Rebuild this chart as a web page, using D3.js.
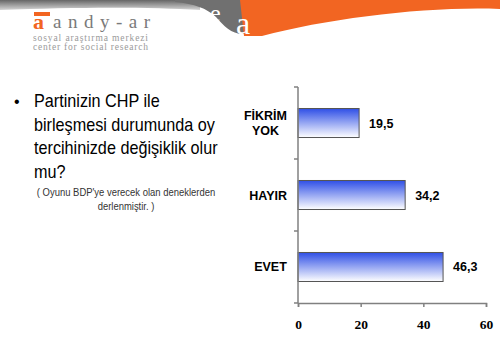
<!DOCTYPE html>
<html><head><meta charset="utf-8">
<script src="https://cdn.jsdelivr.net/npm/d3@7"></script>
<style>body{margin:0;background:#fff}svg{display:block}
.serif{font-family:'Liberation Serif','DejaVu Serif',serif}
.sans{font-family:'Liberation Sans',Arial,sans-serif}
</style>
</head><body>
<svg id="c" width="500" height="356"></svg>
<script>
const categories = ["FİKRİM YOK", "HAYIR", "EVET"];
const values = [19.5, 34.2, 46.3];
const valueLabels = ["19,5", "34,2", "46,3"];
const xTicks = [0, 20, 40, 60];
const questionLines = ["Partinizin CHP ile", "birleşmesi durumunda oy", "tercihinizde değişiklik olur", "mu?"];
const noteLines = ["( Oyunu BDP'ye verecek olan deneklerden", "derlenmiştir. )"];

const svg = d3.select("#c");
const defs = svg.append("defs");
const grad = defs.append("linearGradient").attr("id","bg").attr("x1",0).attr("y1",0).attr("x2",0).attr("y2",1);
grad.append("stop").attr("offset","0%").attr("stop-color","#2f4fe6");
grad.append("stop").attr("offset","100%").attr("stop-color","#ffffff");
const gg = defs.append("linearGradient").attr("id","gg").attr("gradientUnits","userSpaceOnUse")
  .attr("x1",0).attr("y1",0).attr("x2",0).attr("y2",11);
gg.append("stop").attr("offset","0%").attr("stop-color","#666");
gg.append("stop").attr("offset","100%").attr("stop-color","#e0e0e0");

// header decoration
svg.append("path").attr("d","M0,0 L200,0 L200,10 C150,7 80,7 0,10 Z").attr("fill","url(#gg)");
svg.append("path").attr("d","M175,0 L245,0 L245,34 C232,35 224,26 216,17 C206,8 195,4 175,2 Z").attr("fill","#707070");
svg.append("path").attr("d","M240,0 L500,0 L500,9 C430,6 330,18 262,36 L244,36 Z").attr("fill","#f26522");
svg.append("text").attr("class","serif").attr("x",210).attr("y",21).attr("font-size",24).attr("fill","#fff").text("e");
svg.append("text").attr("class","serif").attr("x",236).attr("y",34).attr("font-size",32).attr("fill","#fff").text("a");

// logo
svg.append("rect").attr("x",34).attr("y",12).attr("width",16).attr("height",4).attr("fill","#f26522");
svg.append("text").attr("class","serif").attr("x",33).attr("y",29).attr("font-weight","bold").attr("font-size",22).attr("fill","#f26522").text("a");
svg.append("text").attr("class","serif").attr("x",53).attr("y",28).attr("font-size",19).attr("fill","#7a7a7a").attr("textLength",97).text("andy-ar");
svg.append("text").attr("class","serif").attr("x",33).attr("y",41).attr("font-size",9.5).attr("fill","#9a9a9a").attr("textLength",115).text("sosyal araştırma merkezi");
svg.append("text").attr("class","serif").attr("x",33).attr("y",50).attr("font-size",9.5).attr("fill","#9a9a9a").attr("textLength",115).text("center for social research");

// left text
svg.append("text").attr("class","sans").attr("x",14).attr("y",107).attr("font-size",16).attr("fill","#000").text("•");
svg.append("g").selectAll("text").data(questionLines).join("text")
  .attr("class","sans")
  .attr("x",34).attr("y",(d,i)=>107+i*23.5)
  .attr("font-size",18.5).attr("fill","#000").text(d=>d)
  .each(function(){ const w=this.getComputedTextLength(); d3.select(this).attr("textLength",w*0.875).attr("lengthAdjust","spacingAndGlyphs"); });
svg.append("g").selectAll("text").data(noteLines).join("text")
  .attr("class","sans")
  .attr("x",126).attr("y",(d,i)=>196+i*14).attr("text-anchor","middle")
  .attr("font-size",10.5).attr("fill","#333").text(d=>d)
  .each(function(){ const w=this.getComputedTextLength(); d3.select(this).attr("textLength",w*0.9).attr("lengthAdjust","spacingAndGlyphs"); });

// chart
const x = d3.scaleLinear().domain([0,60]).range([298,486]);
const y = d3.scaleBand().domain(categories).range([87,303]).paddingInner(0.597).paddingOuter(0.2986);
const axisCol = "#808080";

// bars
svg.append("g").selectAll("rect").data(values).join("rect")
  .attr("x",x(0)).attr("y",(d,i)=>y(categories[i]))
  .attr("width",d=>x(d)-x(0)).attr("height",y.bandwidth())
  .attr("fill","url(#bg)").attr("stroke","#555").attr("stroke-width",1);

// y axis
const yb = [87, ...categories.map(c=>y(c)+y.bandwidth()+ (y.step()-y.bandwidth())/2)];
svg.append("line").attr("x1",x(0)).attr("x2",x(0)).attr("y1",87).attr("y2",303).attr("stroke",axisCol).attr("stroke-width",1.5);
svg.append("g").selectAll("line").data(yb).join("line")
  .attr("x1",x(0)-4).attr("x2",x(0)).attr("y1",d=>d).attr("y2",d=>d).attr("stroke",axisCol).attr("stroke-width",1.5);

// x axis
const xAxis = svg.append("g").attr("transform","translate(0,303)")
  .call(d3.axisBottom(x).tickValues(xTicks).tickSize(4).tickPadding(12).tickFormat(d3.format("d")));
xAxis.attr("font-family",null);
xAxis.select(".domain").attr("stroke",axisCol).attr("stroke-width",1.5);
xAxis.selectAll(".tick line").attr("stroke",axisCol).attr("stroke-width",1.5);
xAxis.selectAll(".tick text").attr("class","serif").attr("font-weight","bold").attr("font-size",13.5).attr("fill","#000");

// category labels
const catG = svg.append("g");
categories.forEach((c,i)=>{
  const words = c.split(" ");
  const cy = y(c)+y.bandwidth()/2;
  const t = catG.append("text").attr("class","sans").attr("font-weight","bold").attr("font-size",12.5).attr("fill","#000").attr("text-anchor","middle");
  const lh = 15;
  words.forEach((w,j)=>{
    t.append("tspan").attr("x",0).attr("y",cy + (j-(words.length-1)/2)*lh + 4.5).text(w);
  });
  const bw = t.node().getBBox().width;
  t.attr("transform",`translate(${287-bw/2},0)`);
});

// value labels
svg.append("g").selectAll("text").data(values).join("text")
  .attr("class","sans")
  .attr("x",d=>x(d)+10).attr("y",(d,i)=>y(categories[i])+y.bandwidth()/2+4.5)
  .attr("font-weight","bold").attr("font-size",12.5).attr("fill","#000")
  .text((d,i)=>valueLabels[i]);
</script>
</body></html>
